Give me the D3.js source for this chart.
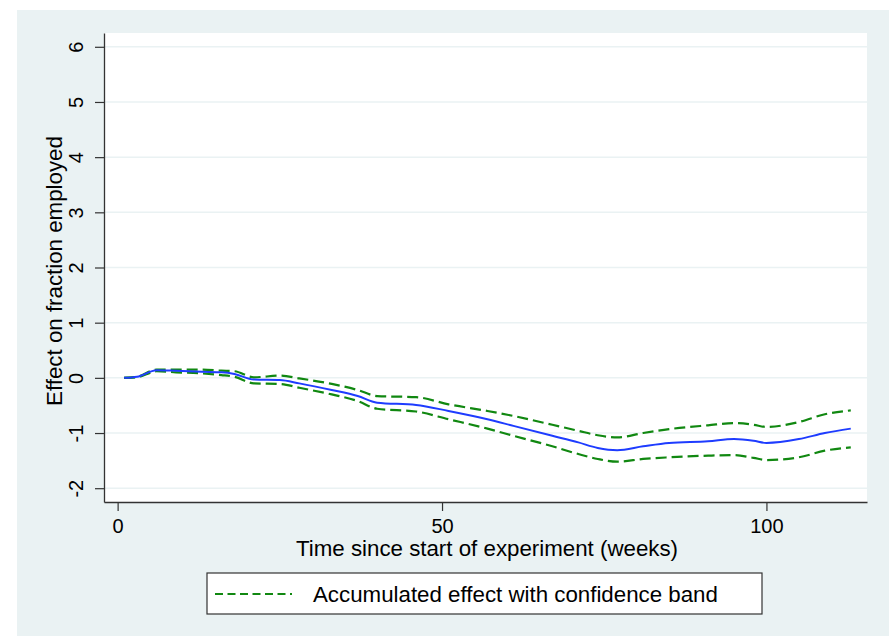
<!DOCTYPE html>
<html>
<head>
<meta charset="utf-8">
<script src="https://cdn.jsdelivr.net/npm/d3@7.9.0/dist/d3.min.js"></script>
<style>
  body { margin: 0; background: #ffffff; }
  svg text { font-family: "Liberation Sans", Arial, sans-serif; fill: #000; }
</style>
</head>
<body>
<svg id="chart" width="892" height="638"></svg>
<script>
// weeks since start, and the accumulated effect with its band
let weeks = [1, 3, 6, 9, 13, 16, 18, 21, 25, 28, 33, 37, 40, 46, 51, 57, 61, 67, 71, 74, 77, 81, 85, 91, 95, 98, 100, 105, 109, 113];
let effect = [0, 0.02, 0.14, 0.13, 0.11, 0.10, 0.07, -0.03, -0.04, -0.10, -0.22, -0.33, -0.45, -0.49, -0.60, -0.75, -0.87, -1.05, -1.17, -1.27, -1.31, -1.24, -1.18, -1.15, -1.11, -1.14, -1.18, -1.11, -1.00, -0.92];
let upper = [0, 0.02, 0.15, 0.15, 0.15, 0.13, 0.12, 0.01, 0.04, -0.01, -0.11, -0.22, -0.33, -0.35, -0.48, -0.60, -0.69, -0.85, -0.96, -1.04, -1.08, -1.00, -0.93, -0.86, -0.82, -0.85, -0.89, -0.80, -0.66, -0.59];
let lower = [0, 0.01, 0.12, 0.10, 0.08, 0.05, 0.02, -0.10, -0.11, -0.18, -0.30, -0.42, -0.56, -0.61, -0.75, -0.92, -1.05, -1.24, -1.38, -1.47, -1.52, -1.47, -1.44, -1.41, -1.40, -1.45, -1.49, -1.44, -1.32, -1.26];

let yTicks = [-2, -1, 0, 1, 2, 3, 4, 5, 6];
let xTicks = [0, 50, 100];

let bg = '#eaf2f3';
let svg = d3.select('#chart');

// outer graph region
svg.append('rect').attr('x', 17).attr('y', 10).attr('width', 872).attr('height', 626).attr('fill', bg);

let plot = { left: 104, top: 33, right: 867, bottom: 502 };
svg.append('rect')
   .attr('x', plot.left).attr('y', plot.top)
   .attr('width', plot.right - plot.left).attr('height', plot.bottom - plot.top)
   .attr('fill', '#ffffff');

let x = d3.scaleLinear().domain([-2.1, 115.5]).range([plot.left, plot.right]);
let y = d3.scaleLinear().domain([-2.25, 6.25]).range([plot.bottom, plot.top]);

// grid
svg.append('g').selectAll('line').data(yTicks).join('line')
   .attr('x1', plot.left).attr('x2', plot.right)
   .attr('y1', d => y(d)).attr('y2', d => y(d))
   .attr('stroke', bg).attr('stroke-width', 1.5);

// axes
let yAxis = svg.append('g')
   .attr('transform', `translate(${plot.left},0)`)
   .call(d3.axisLeft(y).tickValues(yTicks).tickFormat(d => String(d)).tickSize(9).tickSizeOuter(0));
yAxis.select('.domain').attr('stroke', '#333').attr('stroke-width', 1.3);
yAxis.selectAll('.tick line').attr('stroke', '#333').attr('stroke-width', 1.2);
yAxis.selectAll('.tick text')
   .attr('font-size', 20)
   .attr('text-anchor', 'middle')
   .attr('x', 0).attr('y', 0).attr('dy', 0)
   .attr('transform', 'translate(-21,0) rotate(-90)');

let xAxis = svg.append('g')
   .attr('transform', `translate(0,${plot.bottom})`)
   .call(d3.axisBottom(x).tickValues(xTicks).tickSize(9).tickSizeOuter(0));
xAxis.select('.domain').attr('stroke', '#333').attr('stroke-width', 1.3);
xAxis.selectAll('.tick line').attr('stroke', '#333').attr('stroke-width', 1.2);
xAxis.selectAll('.tick text').attr('font-size', 20).attr('y', 30.5).attr('dy', 0);

// axis titles
svg.append('text')
   .attr('transform', `translate(62, 271) rotate(-90)`)
   .attr('text-anchor', 'middle')
   .attr('font-size', 22.3)
   .text('Effect on fraction employed');

svg.append('text')
   .attr('x', 487).attr('y', 556)
   .attr('text-anchor', 'middle')
   .attr('font-size', 22.3)
   .text('Time since start of experiment (weeks)');

// lines
let line = d3.line()
   .x((d, i) => x(weeks[i]))
   .y(d => y(d))
   .curve(d3.curveMonotoneX);

[upper, lower].forEach(series => {
    svg.append('path')
       .attr('d', line(series))
       .attr('fill', 'none')
       .attr('stroke', '#118811')
       .attr('stroke-width', 2.2)
       .attr('stroke-dasharray', '11,5');
});

svg.append('path')
   .attr('d', line(effect))
   .attr('fill', 'none')
   .attr('stroke', '#1e3cff')
   .attr('stroke-width', 2);

// legend
let legend = svg.append('g');
legend.append('rect')
   .attr('x', 207).attr('y', 573).attr('width', 555).attr('height', 41)
   .attr('fill', '#ffffff').attr('stroke', '#333').attr('stroke-width', 1.2);
legend.append('line')
   .attr('x1', 215).attr('x2', 292).attr('y1', 594).attr('y2', 594)
   .attr('stroke', '#118811').attr('stroke-width', 2).attr('stroke-dasharray', '8,4.5');
legend.append('text')
   .attr('x', 313).attr('y', 602)
   .attr('font-size', 22.3)
   .text('Accumulated effect with confidence band');
</script>
</body>
</html>
